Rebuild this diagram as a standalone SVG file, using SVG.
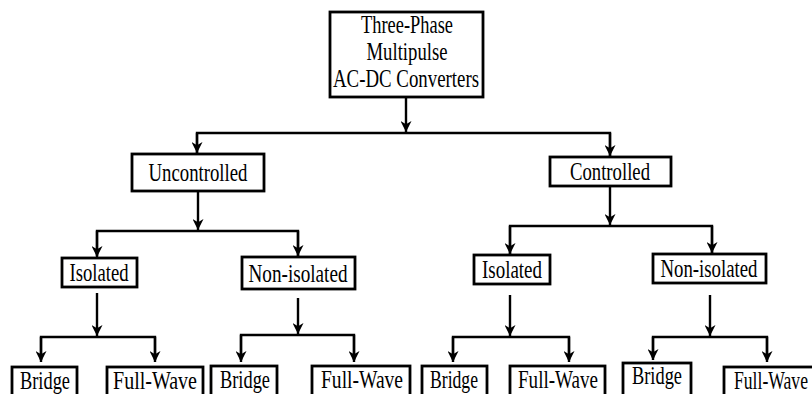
<svg xmlns="http://www.w3.org/2000/svg" width="812" height="394" viewBox="0 0 812 394">
<defs>
<marker id="ah" viewBox="0 0 10 10" refX="10" refY="5" markerWidth="11" markerHeight="11" markerUnits="userSpaceOnUse" orient="auto">
<path d="M0,0 L10,5 L0,10 L3,5 z" fill="#000"/>
</marker>
<style>
.box{fill:#fff;stroke:#000;stroke-width:2.8}
.t{font-family:"Liberation Serif","Times New Roman",serif;font-size:26px;fill:#000;text-anchor:middle}
.c{fill:none;stroke:#000;stroke-width:2.4}
.a{fill:none;stroke:#000;stroke-width:2.4;marker-end:url(#ah)}
</style>
</defs>
<rect width="812" height="394" fill="#fff"/>
<g id="connectors">
<line class="a" x1="406" y1="97" x2="406" y2="132"/>
<polyline class="c" points="197,154 197,133 610,133 610,156"/>
<line class="a" x1="197" y1="133" x2="197" y2="153"/>
<line class="a" x1="610" y1="133" x2="610" y2="156"/>
<line class="a" x1="198" y1="192" x2="198" y2="230"/>
<polyline class="c" points="97,256 97,231 298,231 298,256"/>
<line class="a" x1="97" y1="231" x2="97" y2="257"/>
<line class="a" x1="298" y1="231" x2="298" y2="256"/>
<line class="a" x1="610" y1="187" x2="610" y2="225"/>
<polyline class="c" points="510,254 510,226 712,226 712,253"/>
<line class="a" x1="510" y1="226" x2="510" y2="254"/>
<line class="a" x1="712" y1="226" x2="712" y2="253"/>
<line class="a" x1="97" y1="293" x2="97" y2="336"/>
<polyline class="c" points="41,360 41,337 155,337 155,360"/>
<line class="a" x1="41" y1="337" x2="41" y2="362"/>
<line class="a" x1="155" y1="337" x2="155" y2="362"/>
<line class="a" x1="298" y1="298" x2="298" y2="334"/>
<polyline class="c" points="241,360 241,335 354,335 354,360"/>
<line class="a" x1="241" y1="335" x2="241" y2="362"/>
<line class="a" x1="354" y1="335" x2="354" y2="362"/>
<line class="a" x1="510" y1="295" x2="510" y2="336"/>
<polyline class="c" points="453,360 453,337 569,337 569,360"/>
<line class="a" x1="453" y1="337" x2="453" y2="362"/>
<line class="a" x1="569" y1="337" x2="569" y2="362"/>
<line class="a" x1="710" y1="295" x2="710" y2="336"/>
<polyline class="c" points="653,358 653,337 767,337 767,360"/>
<line class="a" x1="653" y1="337" x2="653" y2="360"/>
<line class="a" x1="767" y1="337" x2="767" y2="362"/>
</g>
<g id="root">
<rect class="box" x="330" y="12" width="153" height="85"/>
<text class="t" x="407" y="33" textLength="92" lengthAdjust="spacingAndGlyphs">Three-Phase</text>
<text class="t" x="407" y="60" textLength="81" lengthAdjust="spacingAndGlyphs">Multipulse</text>
<text class="t" x="406" y="87" textLength="146" lengthAdjust="spacingAndGlyphs">AC-DC Converters</text>
</g>
<g id="uncontrolled">
<rect class="box" x="132" y="154" width="132" height="37"/>
<text class="t" x="198" y="181" textLength="99" lengthAdjust="spacingAndGlyphs">Uncontrolled</text>
</g>
<g id="controlled">
<rect class="box" x="550" y="157" width="121" height="29"/>
<text class="t" x="610" y="180" textLength="80" lengthAdjust="spacingAndGlyphs">Controlled</text>
</g>
<g id="isolated-u">
<rect class="box" x="62" y="258" width="75" height="29"/>
<text class="t" x="99" y="281" textLength="59" lengthAdjust="spacingAndGlyphs">Isolated</text>
</g>
<g id="nonisolated-u">
<rect class="box" x="242" y="257" width="113" height="32"/>
<text class="t" x="298" y="282" textLength="99" lengthAdjust="spacingAndGlyphs">Non-isolated</text>
</g>
<g id="isolated-c">
<rect class="box" x="474" y="255" width="76" height="29"/>
<text class="t" x="512" y="278" textLength="60" lengthAdjust="spacingAndGlyphs">Isolated</text>
</g>
<g id="nonisolated-c">
<rect class="box" x="653" y="254" width="113" height="29"/>
<text class="t" x="709" y="277" textLength="97" lengthAdjust="spacingAndGlyphs">Non-isolated</text>
</g>
<g id="bridge-1">
<rect class="box" x="12" y="367" width="65" height="36"/>
<text class="t" x="45" y="389" textLength="50" lengthAdjust="spacingAndGlyphs">Bridge</text>
</g>
<g id="fullwave-1">
<rect class="box" x="107" y="367" width="96" height="36"/>
<text class="t" x="155" y="389" textLength="84" lengthAdjust="spacingAndGlyphs">Full-Wave</text>
</g>
<g id="bridge-2">
<rect class="box" x="211" y="366" width="66" height="37"/>
<text class="t" x="245" y="388" textLength="50" lengthAdjust="spacingAndGlyphs">Bridge</text>
</g>
<g id="fullwave-2">
<rect class="box" x="312" y="366" width="98" height="37"/>
<text class="t" x="362" y="388" textLength="82" lengthAdjust="spacingAndGlyphs">Full-Wave</text>
</g>
<g id="bridge-3">
<rect class="box" x="422" y="366" width="65" height="37"/>
<text class="t" x="454" y="388" textLength="48" lengthAdjust="spacingAndGlyphs">Bridge</text>
</g>
<g id="fullwave-3">
<rect class="box" x="510" y="366" width="95" height="37"/>
<text class="t" x="558" y="388" textLength="80" lengthAdjust="spacingAndGlyphs">Full-Wave</text>
</g>
<g id="bridge-4">
<rect class="box" x="623" y="363" width="68" height="40"/>
<text class="t" x="657" y="384" textLength="50" lengthAdjust="spacingAndGlyphs">Bridge</text>
</g>
<g id="fullwave-4">
<rect class="box" x="724" y="367" width="92" height="36"/>
<text class="t" x="771" y="389" textLength="74" lengthAdjust="spacingAndGlyphs">Full-Wave</text>
</g>
</svg>
